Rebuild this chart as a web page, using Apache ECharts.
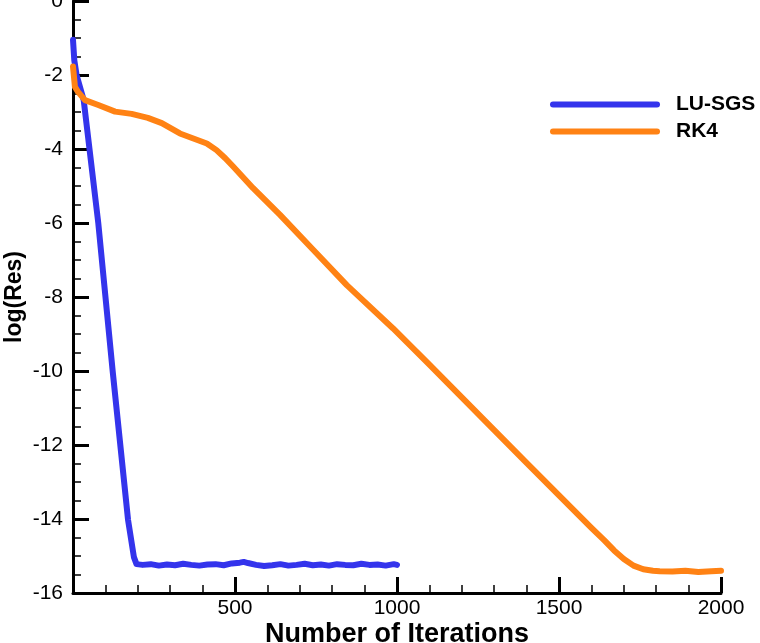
<!DOCTYPE html>
<html>
<head>
<meta charset="utf-8">
<script src="https://cdn.jsdelivr.net/npm/echarts@6/dist/echarts.min.js"></script>
<style>html,body{margin:0;padding:0;background:#fff}#c{width:760px;height:643px}</style>
</head>
<body>
<div id="c"></div>
<script>
// ---- data ----
const seriesNames = ['LU-SGS', 'RK4'];
const luIter = [0, 4, 11, 33, 78, 123, 170, 188, 196, 215, 240, 265, 290, 315, 340, 365, 390, 415, 440, 465, 490, 515, 527, 540, 565, 590, 615, 640, 665, 690, 715, 740, 765, 790, 815, 840, 865, 890, 915, 940, 965, 990, 1000];
const luRes  = [-1.05, -1.6, -2.0, -2.68, -6.0, -10.05, -14.03, -15.03, -15.22, -15.24, -15.22, -15.26, -15.23, -15.25, -15.21, -15.24, -15.26, -15.23, -15.22, -15.25, -15.2, -15.18, -15.16, -15.19, -15.24, -15.27, -15.25, -15.22, -15.26, -15.24, -15.21, -15.25, -15.23, -15.26, -15.22, -15.24, -15.25, -15.21, -15.24, -15.23, -15.26, -15.22, -15.24];
const rkIter = [0, 6, 15, 37, 78, 130, 181, 231, 274, 330, 413, 443, 470, 495, 556, 639, 742, 845, 988, 1100, 1200, 1300, 1400, 1500, 1600, 1640, 1670, 1700, 1730, 1760, 1790, 1811, 1850, 1890, 1930, 1970, 2000];
const rkRes  = [-1.77, -2.32, -2.45, -2.68, -2.81, -2.99, -3.05, -3.16, -3.3, -3.58, -3.85, -4.03, -4.25, -4.48, -5.06, -5.78, -6.73, -7.68, -8.85, -9.83, -10.71, -11.6, -12.48, -13.36, -14.24, -14.58, -14.85, -15.08, -15.26, -15.36, -15.4, -15.41, -15.42, -15.4, -15.43, -15.41, -15.4];
const xTicks = { min: 0, max: 2000, step: 500 };
const yTicks = { min: -16, max: 0, step: 2 };

const pair = (xs, ys) => xs.map((x, i) => [x, ys[i]]);
const font = "'Liberation Sans', Arial, sans-serif";
const legendIcon = 'path://M3,0h104a3,3 0 0 1 0,6h-104a3,3 0 0 1 0,-6z';

const chart = echarts.init(document.getElementById('c'), null, { renderer: 'canvas' });
chart.setOption({
  animation: false,
  backgroundColor: '#fff',
  grid: { left: 73, right: 39, top: 1, bottom: 50, containLabel: false, outerBoundsMode: 'none' },
  legend: {
    orient: 'vertical', left: 545, top: 89, itemWidth: 110, itemHeight: 20, itemGap: 6,
    icon: legendIcon, symbolKeepAspect: true,
    data: seriesNames,
    textStyle: { fontFamily: font, fontWeight: 'bold', fontSize: 21, color: '#000', padding: [0, 0, 0, 11] }
  },
  xAxis: {
    type: 'value', min: xTicks.min, max: xTicks.max, interval: xTicks.step,
    name: 'Number of Iterations', nameLocation: 'middle', nameGap: 28, nameMoveOverlap: false,
    nameTextStyle: { fontFamily: font, fontWeight: 'bold', fontSize: 27, color: '#000' },
    axisLine: { show: true, onZero: false, lineStyle: { color: '#000', width: 3 } },
    axisTick: { show: true, inside: true, length: 16, lineStyle: { color: '#000', width: 3 } },
    minorTick: { show: true, splitNumber: 5, length: 8, lineStyle: { color: '#000', width: 1.5 } },
    axisLabel: { margin: 5, fontFamily: font, fontSize: 21, color: '#000', formatter: v => (v === 0 ? '' : String(v)) },
    splitLine: { show: false }
  },
  yAxis: {
    type: 'value', min: yTicks.min, max: yTicks.max, interval: yTicks.step,
    name: 'log(Res)', nameLocation: 'middle', nameGap: 47, nameRotate: 90, nameMoveOverlap: false,
    nameTextStyle: { fontFamily: font, fontWeight: 'bold', fontSize: 23, color: '#000' },
    axisLine: { show: true, onZero: false, lineStyle: { color: '#000', width: 3 } },
    axisTick: { show: true, inside: true, length: 16, lineStyle: { color: '#000', width: 3 } },
    minorTick: { show: true, splitNumber: 4, length: 8, lineStyle: { color: '#000', width: 1.5 } },
    axisLabel: { margin: 10, fontFamily: font, fontSize: 21, color: '#000' },
    splitLine: { show: false }
  },
  series: [
    { name: seriesNames[0], type: 'line', data: pair(luIter, luRes), symbol: 'none', smooth: false,
      lineStyle: { color: '#3434EC', width: 6, cap: 'round', join: 'round' }, itemStyle: { color: '#3434EC' } },
    { name: seriesNames[1], type: 'line', data: pair(rkIter, rkRes), symbol: 'none', smooth: false,
      lineStyle: { color: '#FF8214', width: 6, cap: 'round', join: 'round' }, itemStyle: { color: '#FF8214' } }
  ]
});
</script>
</body>
</html>
